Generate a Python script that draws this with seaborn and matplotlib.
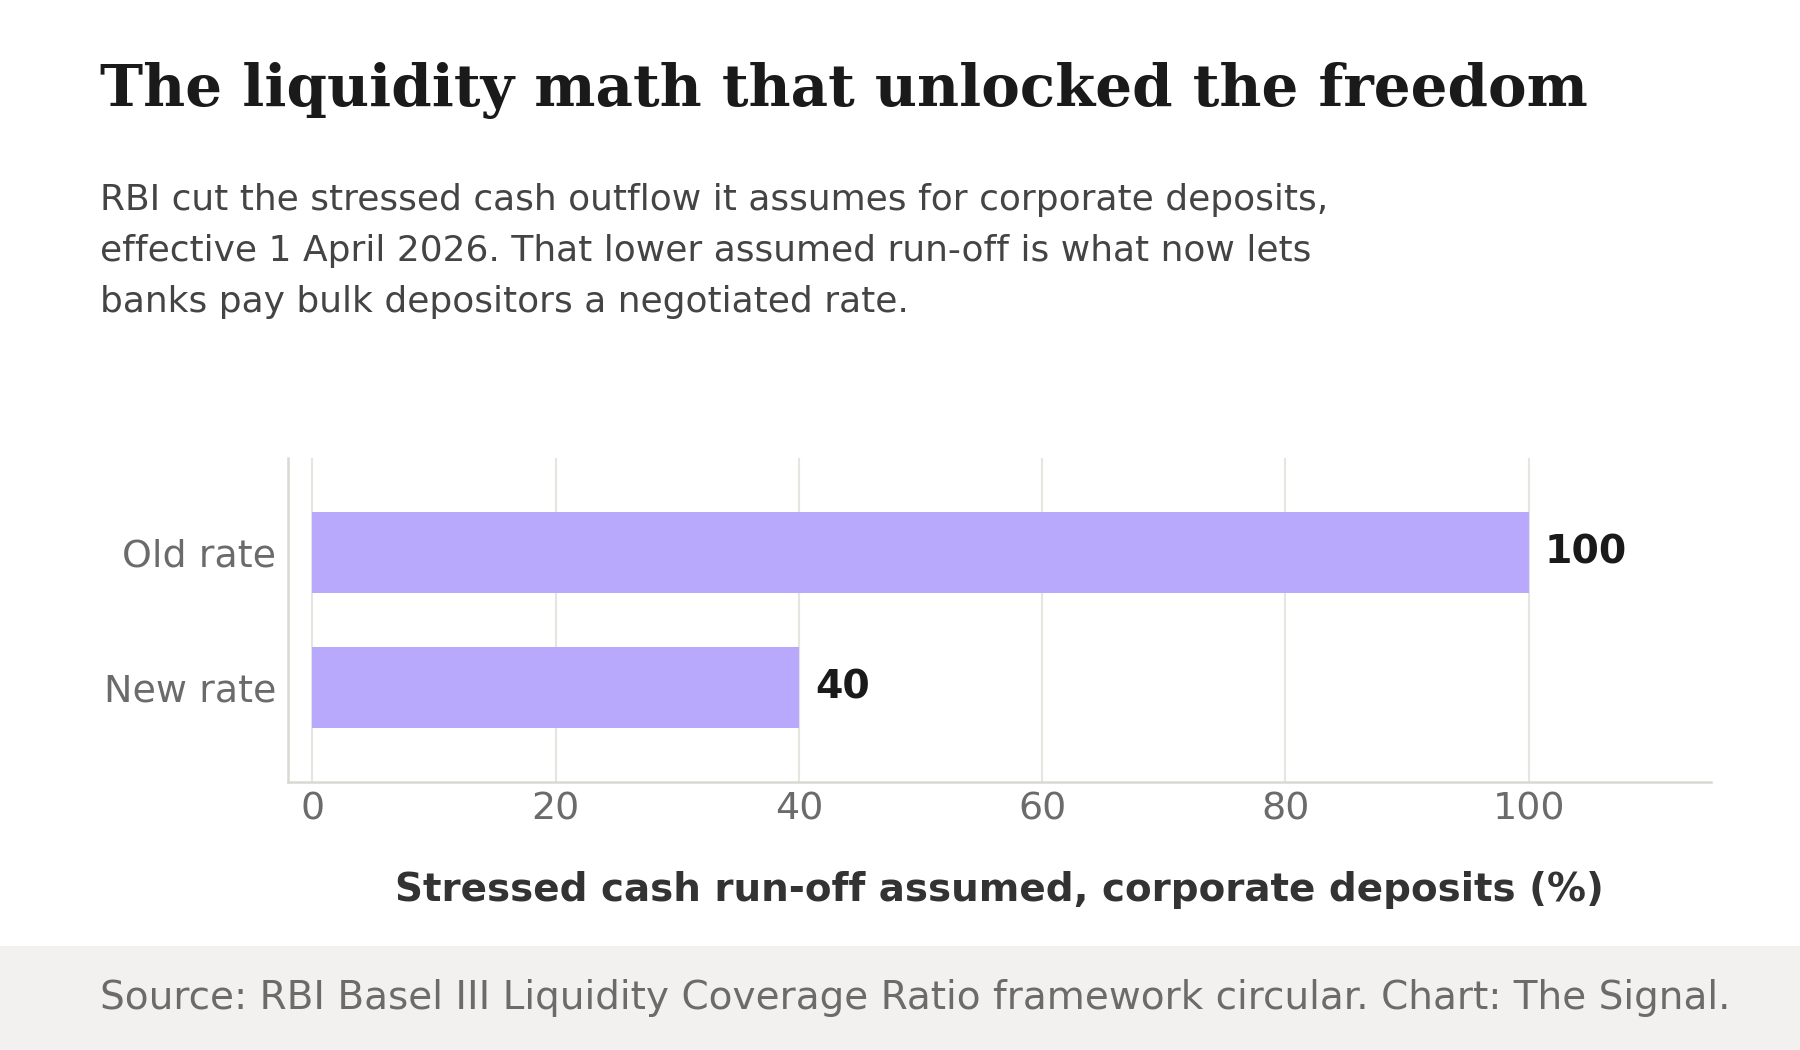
import matplotlib
matplotlib.use("Agg")
import matplotlib.pyplot as plt
import seaborn as sns
import pandas as pd
from matplotlib.patches import Rectangle

# ---- data ----
categories = ["Old rate", "New rate"]
values = [100, 40]
xticks = [0, 20, 40, 60, 80, 100]

title = "The liquidity math that unlocked the freedom"
subtitle_lines = [
    "RBI cut the stressed cash outflow it assumes for corporate deposits,",
    "effective 1 April 2026. That lower assumed run-off is what now lets",
    "banks pay bulk depositors a negotiated rate.",
]
xlabel = "Stressed cash run-off assumed, corporate deposits (%)"
source = "Source: RBI Basel III Liquidity Coverage Ratio framework circular. Chart: The Signal."

df = pd.DataFrame({"category": categories, "value": values})

sns.set_theme(style="white")
plt.rcParams["font.family"] = ["DejaVu Sans"]

W, H, DPI = 1800, 1050, 100
fig = plt.figure(figsize=(W / DPI, H / DPI), dpi=DPI, facecolor="white")

def fx(px):
    return px / W

def fy(py):
    return 1 - py / H

# axes placement
ax = fig.add_axes([fx(288), fy(782), fx(1711) - fx(288), fy(458) - fy(782)])

BAR = "#b8a9fd"
sns.barplot(data=df, x="value", y="category", orient="h", color=BAR,
            width=0.6, saturation=1, linewidth=0, edgecolor="none",
            ax=ax, zorder=3)

ax.set_xlim(-2, 115)
ax.set_ylim(1.7, -0.7)
ax.set_xticks(xticks)
ax.set_xticklabels([str(t) for t in xticks])
ax.grid(axis="x", color="#e6e6e1", linewidth=1.5, zorder=0)
ax.grid(axis="y", visible=False)
ax.set_axisbelow(True)

for s in ["top", "right"]:
    ax.spines[s].set_visible(False)
for s in ["left", "bottom"]:
    ax.spines[s].set_color("#d9d9d4")
    ax.spines[s].set_linewidth(1.8)

ax.tick_params(axis="both", length=0, colors="#6b6b6b", labelsize=27.4)
ax.tick_params(axis="y", pad=8.4)
ax.tick_params(axis="x", pad=7)
ax.set_ylabel("")
ax.set_xlabel(xlabel, fontsize=28.0, fontweight="bold", color="#333333", labelpad=31)

# value labels
for i, v in enumerate(values):
    ax.annotate(str(v), xy=(v, i), xytext=(11.5, 0), textcoords="offset points",
                va="center", ha="left", fontsize=28.4, fontweight="bold",
                color="#1a1a1a")

# title & subtitle
fig.text(fx(100), fy(106), title, fontsize=41.7, fontweight="bold",
         family="DejaVu Serif", color="#1a1a1a", va="baseline", ha="left")
for k, line in enumerate(subtitle_lines):
    fig.text(fx(100), fy(210 + 51 * k), line, fontsize=25.9, color="#444444",
             va="baseline", ha="left")

# footer band
fig.patches.append(Rectangle((0, 0), 1, fy(946), transform=fig.transFigure,
                             facecolor="#f2f1ef", edgecolor="none", zorder=0))
fig.text(fx(100), fy(1009), source, fontsize=28.1, color="#6b6b6b",
         va="baseline", ha="left")

fig.savefig("out.png", dpi=DPI, facecolor="white")
